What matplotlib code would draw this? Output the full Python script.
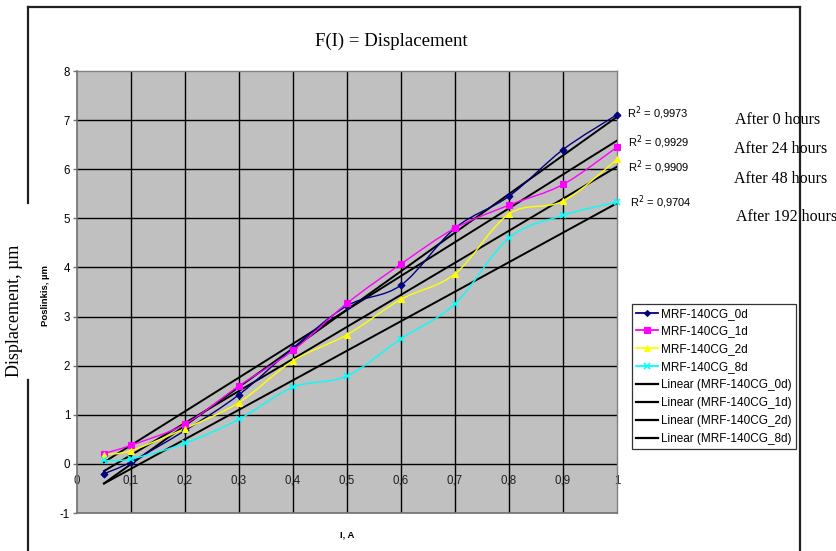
import numpy as np
import matplotlib
matplotlib.use("Agg")
import matplotlib.pyplot as plt
from matplotlib.path import Path
from matplotlib.patches import PathPatch
from matplotlib.lines import Line2D

# ---- data ----
current = [0.05, 0.1, 0.2, 0.3, 0.4, 0.5, 0.6, 0.7, 0.8, 0.9, 1.0]
disp_0d = [-0.20, 0.04, 0.68, 1.41, 2.36, 3.22, 3.64, 4.80, 5.45, 6.40, 7.11]
disp_1d = [0.21, 0.38, 0.81, 1.59, 2.31, 3.27, 4.07, 4.80, 5.27, 5.69, 6.45]
disp_2d = [0.19, 0.27, 0.72, 1.25, 2.10, 2.63, 3.35, 3.87, 5.09, 5.35, 6.20]
disp_8d = [0.07, 0.10, 0.42, 0.91, 1.56, 1.79, 2.55, 3.26, 4.60, 5.06, 5.33]
series_names = ["MRF-140CG_0d", "MRF-140CG_1d", "MRF-140CG_2d", "MRF-140CG_8d"]
r2_labels = ["0,9973", "0,9929", "0,9909", "0,9704"]
hours_labels = ["After 0 hours", "After 24 hours", "After 48 hours", "After 192 hours"]
x_ticks = [0, 0.1, 0.2, 0.3, 0.4, 0.5, 0.6, 0.7, 0.8, 0.9, 1.0]
x_tick_labels = ["0", "0,1", "0,2", "0,3", "0,4", "0,5", "0,6", "0,7", "0,8", "0,9", "1"]
y_ticks = [-1, 0, 1, 2, 3, 4, 5, 6, 7, 8]

colors = ["#000080", "#FF00FF", "#FFFF00", "#00FFFF"]
markers = ["D", "s", "^", "x"]
msizes = [3.5, 4.5, 5, 5]

SANS = ["Liberation Sans", "DejaVu Sans"]
SERIF = ["Liberation Serif", "DejaVu Serif"]

W, H = 836, 551
fig = plt.figure(figsize=(W / 100, H / 100), dpi=100)
fig.patch.set_facecolor("white")

def fx(px):
    return px / W

def fy(py):
    return 1 - py / H

ax = fig.add_axes([fx(77), fy(513), fx(617) - fx(77), fy(71) - fy(513)])
ax.set_facecolor("#C0C0C0")
ax.set_xlim(0, 1)
ax.set_ylim(-1, 8)

# gridlines (drawn above the x tick labels)
for xv in x_ticks[1:-1]:
    ax.axvline(xv, color="black", lw=1.0, zorder=2)
for yv in y_ticks[1:-1]:
    ax.axhline(yv, color="black", lw=1.0, zorder=2)

for s in ["top", "right"]:
    ax.spines[s].set_color("#808080")
    ax.spines[s].set_linewidth(1.0)
for s in ["left", "bottom"]:
    ax.spines[s].set_color("#707070")
    ax.spines[s].set_linewidth(1.2)

ax.set_xticks([])
ax.set_yticks(y_ticks)
ax.set_yticklabels([str(v) for v in y_ticks], fontfamily=SANS, fontsize=8.3)
ax.tick_params(axis="y", length=3, width=1, color="#707070", pad=2)

# x tick labels inside the plot, just below y=0
for xv, lab in zip(x_ticks, x_tick_labels):
    ax.text(xv, -0.34, lab, ha="center", va="center", fontsize=8.3,
            fontfamily=SANS, color="#202020", zorder=1.5, clip_on=False)


def smooth_path(xs, ys):
    pts = np.column_stack([xs, ys])
    n = len(pts)
    verts = [pts[0]]
    codes = [Path.MOVETO]
    for i in range(n - 1):
        p0 = pts[max(i - 1, 0)]
        p1 = pts[i]
        p2 = pts[i + 1]
        p3 = pts[min(i + 2, n - 1)]
        c1 = p1 + (p2 - p0) / 6.0
        c2 = p2 - (p3 - p1) / 6.0
        verts += [c1, c2, p2]
        codes += [Path.CURVE4] * 3
    return Path(verts, codes)


all_series = [disp_0d, disp_1d, disp_2d, disp_8d]
handles = []
for ys, c, m, ms, name in zip(all_series, colors, markers, msizes, series_names):
    patch = PathPatch(smooth_path(current, ys), facecolor="none", edgecolor=c,
                      lw=1.0, zorder=4)
    ax.add_patch(patch)
    ax.plot(current, ys, linestyle="none", marker=m, color=c, ms=ms,
            mec=c, mew=1.2 if m == "x" else 0.8, zorder=5, clip_on=False)
    handles.append(Line2D([], [], color=c, marker=m, ms=ms - 0.5, lw=1.3,
                          mew=1.2 if m == "x" else 0.8))

# linear trend lines
xs_fit = np.array([current[0], current[-1]])
for ys, name in zip(all_series, series_names):
    k, b = np.polyfit(current, ys, 1)
    ax.plot(xs_fit, k * xs_fit + b, color="black", lw=1.4, zorder=3)
    handles.append(Line2D([], [], color="black", lw=1.6))

labels = series_names + ["Linear (%s)" % n for n in series_names]
leg = fig.legend(handles, labels, loc="upper left",
                 bbox_to_anchor=(fx(631.5), fy(303.5)),
                 prop={"family": SANS, "size": 8.5}, frameon=True, fancybox=False,
                 edgecolor="black", borderpad=0.35, labelspacing=0.5,
                 handlelength=1.9, handletextpad=0.25, borderaxespad=0)
leg.get_frame().set_linewidth(0.9)

# R^2 labels
r2_pos = [(627, 113), (628, 142), (628, 167), (630, 202)]
for (px, py), lab in zip(r2_pos, r2_labels):
    fig.text(fx(px), fy(py), r"R$^{2}$ = " + lab, ha="left", va="center",
             fontsize=8, fontfamily=SANS)

# "After ... hours" labels
hour_pos = [(735, 120), (734, 149), (734, 179), (736, 217)]
for (px, py), lab in zip(hour_pos, hours_labels):
    fig.text(fx(px), fy(py), lab, ha="left", va="center", fontsize=11.5,
             fontfamily=SERIF)

# Titles and axis labels
fig.text(fx(391), fy(41), "F(I) = Displacement", ha="center", va="center",
         fontsize=13.5, fontfamily=SERIF)
fig.text(fx(45), fy(296), "Poslinkis, µm", ha="center", va="center",
         rotation=90, fontsize=6.8, fontweight="bold", fontfamily=SANS)
fig.text(fx(347), fy(535), "I, A", ha="center", va="center", fontsize=6.8,
         fontweight="bold", fontfamily=SANS)
fig.text(fx(15), fy(311), "Displacement, µm", ha="center", va="center",
         rotation=90, fontsize=13, fontfamily=SERIF)

# outer chart border
border_kw = dict(color="#202020", lw=1.6, transform=fig.transFigure)
fig.add_artist(Line2D([fx(27.5), fx(800)], [fy(6.5), fy(6.5)], **border_kw))
fig.add_artist(Line2D([fx(800), fx(800)], [fy(6.5), fy(551)], **border_kw))
fig.add_artist(Line2D([fx(27.5), fx(27.5)], [fy(6.5), fy(203)], **border_kw))
fig.add_artist(Line2D([fx(27.5), fx(27.5)], [fy(380), fy(551)], **border_kw))

fig.savefig("out.png", dpi=100)
